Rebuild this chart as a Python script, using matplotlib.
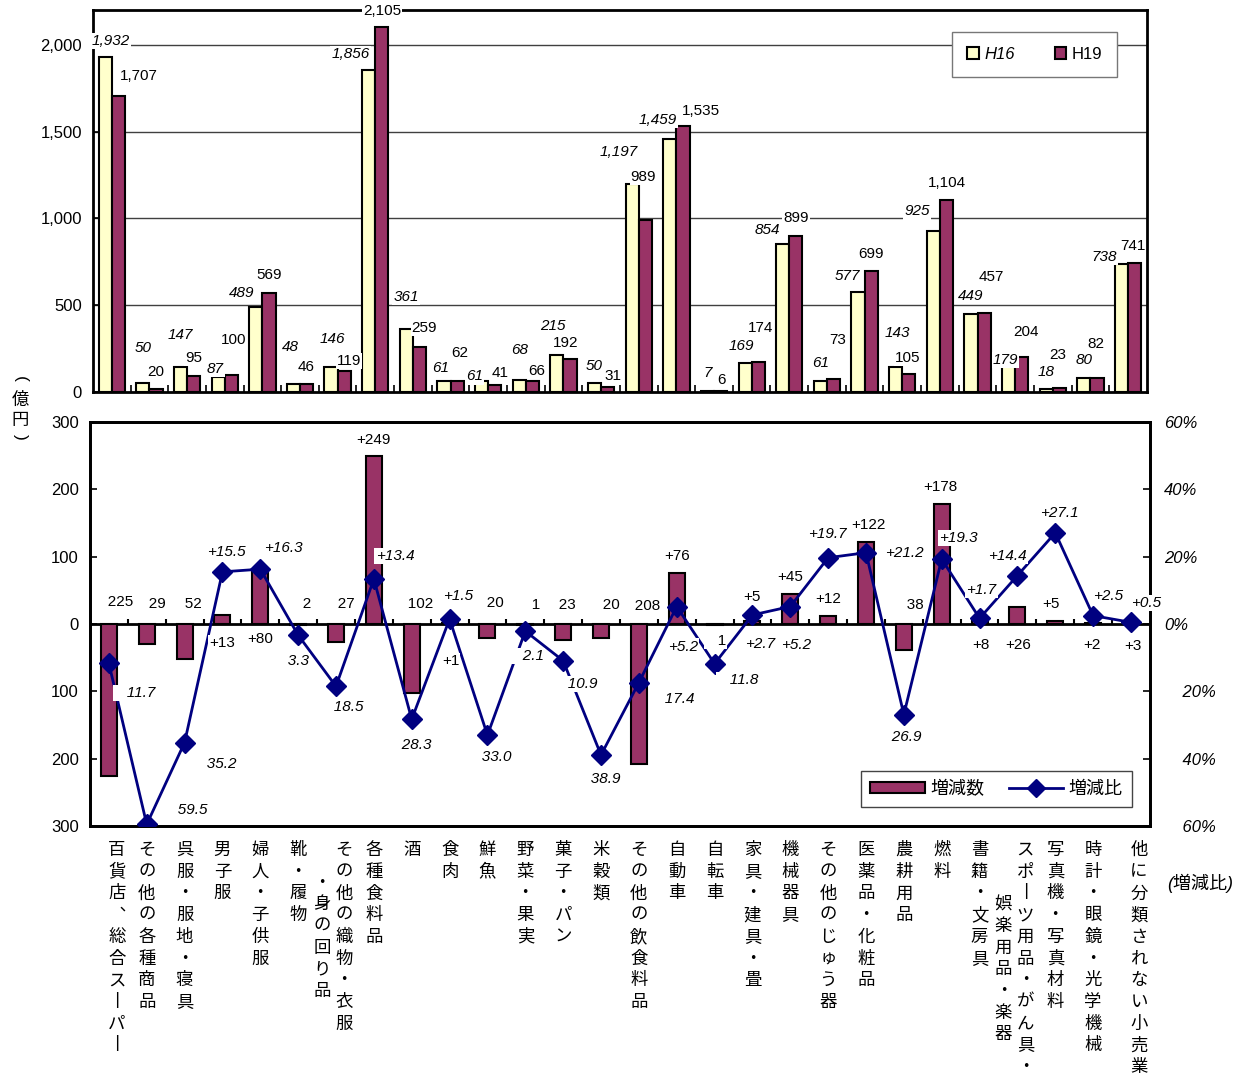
import numpy as np
import matplotlib.pyplot as plt
from matplotlib.patches import Patch
from matplotlib.lines import Line2D

plt.rcParams['font.family'] = ['Liberation Sans', 'Noto Sans CJK JP', 'DejaVu Sans']
JP = ['Noto Sans CJK JP', 'DejaVu Sans']

# 業種（縦書きの2列目は "\n" の後）
categories = ["百貨店、総合スーパー", "その他の各種商品", "呉服・服地・寝具", "男子服",
              "婦人・子供服", "靴・履物", "その他の織物・衣服\n・身の回り品", "各種食料品",
              "酒", "食肉", "鮮魚", "野菜・果実", "菓子・パン", "米穀類", "その他の飲食料品",
              "自動車", "自転車", "家具・建具・畳", "機械器具", "その他のじゅう器",
              "医薬品・化粧品", "農耕用品", "燃料", "書籍・文房具",
              "スポーツ用品・がん具・\n娯楽用品・楽器", "写真機・写真材料",
              "時計・眼鏡・光学機械", "他に分類されない小売業"]
# 販売額（億円）
h16 = [1932, 50, 147, 87, 489, 48, 146, 1856, 361, 61, 61, 68, 215, 50, 1197,
       1459, 7, 169, 854, 61, 577, 143, 925, 449, 179, 18, 80, 738]
h19 = [1707, 20, 95, 100, 569, 46, 119, 2105, 259, 62, 41, 66, 192, 31, 989,
       1535, 6, 174, 899, 73, 699, 105, 1104, 457, 204, 23, 82, 741]
# 増減数（億円）と増減比（%）
diff = [-225, -29, -52, 13, 80, -2, -27, 249, -102, 1, -20, -1, -23, -20, -208,
        76, -1, 5, 45, 12, 122, -38, 178, 8, 26, 5, 2, 3]
ratio = [-11.7, -59.5, -35.2, 15.5, 16.3, -3.3, -18.5, 13.4, -28.3, 1.5, -33.0,
         -2.1, -10.9, -38.9, -17.4, 5.2, -11.8, 2.7, 5.2, 19.7, 21.2, -26.9, 19.3,
         1.7, 14.4, 27.1, 2.5, 0.5]

top_ticks = [0, 500, 1000, 1500, 2000]
top_ticklabels = ["0", "500", "1,000", "1,500", "2,000"]
low_ticks = [-300, -200, -100, 0, 100, 200, 300]
low_ticklabels = ["300", "200", "100", "0", "100", "200", "300"]
pct_ticks = [-60, -40, -20, 0, 20, 40, 60]
pct_ticklabels = ["    60%", "    40%", "    20%", "0%", "20%", "40%", "60%"]

# ラベル位置の微調整（ピクセル, 右・下が正）
h16_pos = [(6, -16), (0, -35), (0, -32), (-3, -8), (-14, -14), (-3, -37), (1, -28),
           (-18, -16), (0, -32), (-3, -13), (-7, -5), (0, -30), (-4, -29), (0, -17),
           (-13, -32), (-12, -19), (0, -18), (-4, -17), (-15, -14), (0, -18),
           (-11, -16), (2, -34), (-16, -20), (0, -18), (-3, -1), (0, -17), (0, -18),
           (-17, -7)]
h19_pos = [(20, -20), (0, -17), (0, -18), (2, -35), (0, -18), (0, -17), (5, -10),
           (0, -16), (5, -19), (3, -28), (5, -12), (4, -10), (-4, -16), (5, -11),
           (-2, -43), (18, -15), (1, -11), (2, -34), (0, -18), (4, -39), (0, -17),
           (-1, -16), (0, -17), (7, -36), (4, -25), (-2, -33), (-1, -34), (-2, -17)]
diff_pos = [(5, -22), (4, -20), (2, -20), (0, 28), (0, 69), (2, -20), (4, -20),
            (0, -16), (2, -20), (1, 38), (1, -21), (4, -19), (-2, -19), (4, -19),
            (2, -18), (0, -17), (1, 17), (0, -24), (0, -17), (0, -17), (2, -17),
            (5, -19), (-1, -17), (1, 26), (1, 38), (-4, -17), (-1, 22), (2, 24)]
ratio_pos = [(26, 30), (40, -14), (31, 21), (4, -20), (23, -21), (-6, 26), (6, 21),
             (21, -23), (-1, 26), (9, -23), (3, 22), (2, 25), (13, 23), (-2, 24),
             (34, 16), (6, 40), (23, 16), (8, 29), (6, 38), (-1, -24), (38, 0),
             (-4, 22), (17, -21), (2, -28), (-10, -20), (4, -20), (15, -20), (15, -19)]

C16 = '#FFFFCC'
C19 = '#993366'
NAVY = '#000080'
BOX = dict(facecolor='white', edgecolor='none', pad=0.8)
NEG = "   "  # 負の値は符号の分だけ空ける

fig = plt.figure(figsize=(12.51, 10.75), dpi=100)

# ---- 上段：販売額 ----
ax_t = fig.add_axes([0.0743, 0.6353, 0.8425, 0.3553])
x = np.arange(len(categories))
w = 0.35
ax_t.bar(x - w / 2, h16, w, color=C16, edgecolor='black', linewidth=1.5, zorder=3)
ax_t.bar(x + w / 2, h19, w, color=C19, edgecolor='black', linewidth=1.5, zorder=3)
for v in top_ticks[1:]:
    ax_t.axhline(v, color='#404040', lw=1, zorder=1)
ax_t.set_xlim(-0.5, len(categories) - 0.5)
ax_t.set_ylim(0, 2200)
ax_t.set_yticks(top_ticks)
ax_t.set_yticklabels(top_ticklabels)
ax_t.set_xticks(np.arange(0.5, len(categories) - 1))
ax_t.tick_params(axis='x', direction='in', length=5, width=1.2, labelbottom=False)
ax_t.tick_params(axis='y', direction='in', length=5, width=1.2, labelsize=12, pad=8)
for s in ax_t.spines.values():
    s.set_linewidth(2)

for i in range(len(categories)):
    dx, dy = h16_pos[i]
    ax_t.annotate(f"{h16[i]:,}", xy=(x[i] - w / 2, h16[i]), xytext=(dx, -dy),
                  textcoords='offset pixels', ha='center', va='center', fontsize=11,
                  style='italic', bbox=BOX, zorder=6, annotation_clip=False)
    dx, dy = h19_pos[i]
    ax_t.annotate(f"{h19[i]:,}", xy=(x[i] + w / 2, h19[i]), xytext=(dx, -dy),
                  textcoords='offset pixels', ha='center', va='center', fontsize=11,
                  bbox=BOX, zorder=6, annotation_clip=False)

leg = ax_t.legend([Patch(facecolor=C16, edgecolor='black', lw=1.5),
                   Patch(facecolor=C19, edgecolor='black', lw=1.5)],
                  ['H16', 'H19'], ncol=2, loc='upper right',
                  bbox_to_anchor=(0.9715, 0.9424), borderaxespad=0, fancybox=False,
                  edgecolor='#777777', framealpha=1, fontsize=12, handlelength=0.7,
                  handleheight=0.7, handletextpad=0.3, columnspacing=2.4,
                  borderpad=0.9)
leg.get_texts()[0].set_style('italic')

# ---- 下段：増減数と増減比 ----
ax_b = fig.add_axes([0.0719, 0.2316, 0.8473, 0.3758])
ax_b.bar(x, diff, 0.42, color=C19, edgecolor='black', linewidth=1.5, zorder=3)
ax_b.axhline(0, color='black', lw=2, zorder=2)
ax_b.vlines(np.arange(0.5, len(categories) - 1), 0, 8, color='black', lw=1.5, zorder=2)
ax_b.set_xlim(-0.5, len(categories) - 0.5)
ax_b.set_ylim(-300, 300)
ax_b.set_xticks([])
ax_b.set_yticks(low_ticks)
ax_b.set_yticklabels(low_ticklabels)
ax_b.tick_params(axis='y', direction='in', length=5, width=1.2, labelsize=12, pad=8)

ax_r = ax_b.twinx()
ax_r.plot(x, ratio, color=NAVY, lw=2, marker='D', ms=10, zorder=4)
ax_r.set_ylim(-60, 60)
ax_r.set_yticks(pct_ticks)
ax_r.set_yticklabels(pct_ticklabels, style='italic')
ax_r.tick_params(axis='y', direction='in', length=5, width=1.2, labelsize=12, pad=10)
for a in (ax_b, ax_r):
    for s in a.spines.values():
        s.set_linewidth(2)

for i in range(len(categories)):
    d = diff[i]
    txt = f"+{d}" if d > 0 else NEG + f"{-d}"
    dx, dy = diff_pos[i]
    ax_r.annotate(txt, xy=(x[i], max(d, 0)), xycoords=ax_b.transData,
                  xytext=(dx, -dy), textcoords='offset pixels', ha='center',
                  va='center', fontsize=11, bbox=BOX, zorder=6)
for i in range(len(categories)):
    r = ratio[i]
    txt = f"+{r:.1f}" if r > 0 else NEG + f"{-r:.1f}"
    dx, dy = ratio_pos[i]
    ax_r.annotate(txt, xy=(x[i], r), xytext=(dx, -dy), textcoords='offset pixels',
                  ha='center', va='center', fontsize=11, style='italic', bbox=BOX,
                  zorder=7, annotation_clip=False)

ax_r.legend([Patch(facecolor=C19, edgecolor='black', lw=1.5),
             Line2D([], [], color=NAVY, lw=2, marker='D', ms=9)],
            ['増減数', '増減比'], ncol=2, loc='lower right',
            bbox_to_anchor=(0.983, 0.047), borderaxespad=0, fancybox=False,
            edgecolor='#444444', framealpha=1, prop={'family': JP, 'size': 13},
            handlelength=3.0, handleheight=0.6, handletextpad=0.3,
            columnspacing=1.4, borderpad=0.5).set_zorder(8)

# ---- 縦書きの業種名 ----
VERT = {'ー': '丨', '、': '︑'}
PITCH = 21.7
col_shift = {0: 8, len(categories) - 1: 8}
second_start = {6: 1.5, 24: 2.5}


def vertical_text(xpos, text, dx, start):
    for k, ch in enumerate(text):
        ax_b.annotate(VERT.get(ch, ch), xy=(xpos, 0), xycoords=ax_b.get_xaxis_transform(),
                      xytext=(dx, -(24 + (start + k) * PITCH)), textcoords='offset pixels',
                      ha='center', va='center', fontsize=12.5, family=JP,
                      annotation_clip=False)


for i, name in enumerate(categories):
    cols = name.split("\n")
    if len(cols) == 1:
        vertical_text(x[i], cols[0], col_shift.get(i, 0), 0)
    else:
        vertical_text(x[i], cols[0], 8, 0)
        vertical_text(x[i], cols[1], -14, second_start[i])

fig.text(1200 / 1251, 1 - 883 / 1075, "(増減比)", ha='center', va='center',
         fontsize=13, style='italic', family=['Liberation Sans', 'Noto Sans CJK JP'])

# 単位（縦書き、括弧は90度回転）
for ch, yp, rot in zip(['(', '億', '円', ')'], [379, 400, 421, 437], [-90, 0, 0, -90]):
    fig.text(20 / 1251, 1 - yp / 1075, ch, ha='center', va='center', fontsize=12.5,
             rotation=rot, family=['Liberation Sans', 'Noto Sans CJK JP'])

fig.savefig('out.png', dpi=100)
